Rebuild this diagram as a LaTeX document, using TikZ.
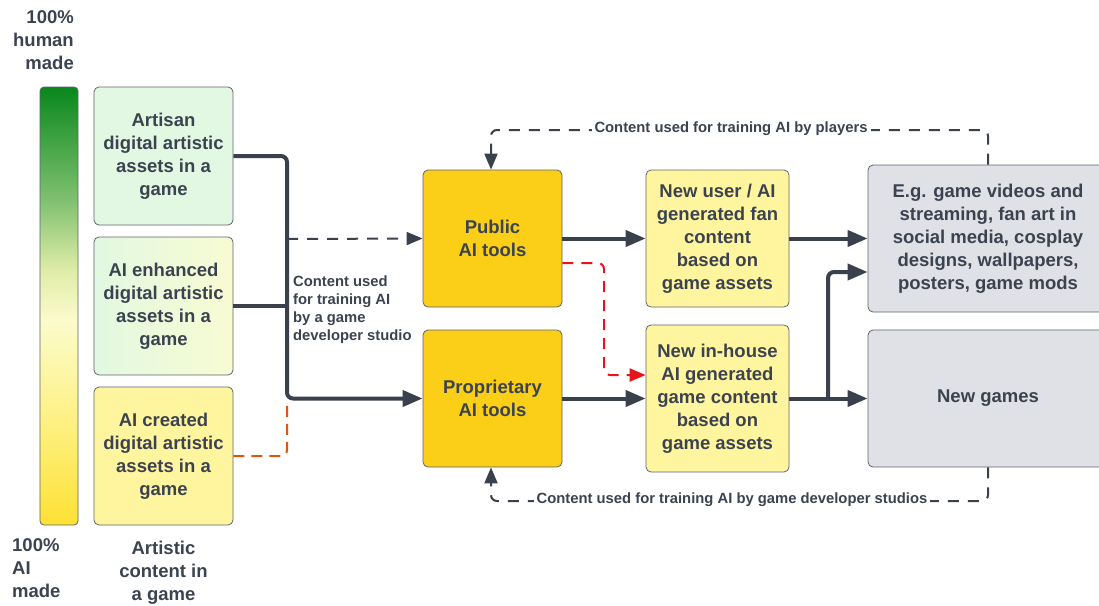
\documentclass[tikz,border=0pt]{standalone}
\usepackage{fontspec}
\setmainfont{Liberation Sans}
\usetikzlibrary{arrows.meta,calc}

\definecolor{ink}{HTML}{3A414C}
\definecolor{txt}{HTML}{3B4350}
\definecolor{edge}{HTML}{5E646C}
\definecolor{gold}{HTML}{FBCE17}
\definecolor{paleyellow}{HTML}{FFF59F}
\definecolor{palegreen}{HTML}{E2F8E2}
\definecolor{palecream}{HTML}{F8FBD2}
\definecolor{boxgrey}{HTML}{DFE1E6}
\definecolor{rust}{HTML}{D9570F}
\definecolor{alert}{HTML}{E8141B}

% green (human made) at the top, yellow (AI made) at the bottom;
% the path is fitted to the 25bp--75bp band of the shading
\pgfdeclareverticalshading{humanai}{100bp}{%
  color(0bp)=({rgb,255:red,254;green,224;blue,52});
  color(25bp)=({rgb,255:red,254;green,224;blue,52});
  color(35.8bp)=({rgb,255:red,253;green,240;blue,124});
  color(48.4bp)=({rgb,255:red,252;green,251;blue,204});
  color(54.1bp)=({rgb,255:red,223;green,236;blue,168});
  color(62.1bp)=({rgb,255:red,128;green,192;blue,112});
  color(75bp)=({rgb,255:red,8;green,136;blue,28});
  color(100bp)=({rgb,255:red,8;green,136;blue,28})}

\tikzset{
  box/.style={draw=edge, line width=0.8pt, rounded corners=5pt, align=center,
    text=txt, font=\fontsize{18.5}{23}\selectfont\bfseries, inner sep=0pt},
  caption/.style={text=txt, font=\fontsize{18.5}{23}\selectfont\bfseries, inner sep=0pt},
  small/.style={text=txt, font=\fontsize{14.8}{18}\selectfont\bfseries, inner sep=1pt},
  flow/.style={draw=ink, line width=4pt, rounded corners=6pt,
    -{Triangle[length=20pt,width=16pt]}},
  feed/.style={draw=ink, line width=4pt, rounded corners=6pt},
  loop/.style={draw=ink, line width=2pt, dash pattern=on 11pt off 9pt, rounded corners=6pt,
    -{Triangle[length=16pt,width=13pt]}},
}

\begin{document}
\begin{tikzpicture}[x=1pt,y=-1pt]
\useasboundingbox (0,0) rectangle (1099,605);
\clip (0,0) rectangle (1099,605);

% scale bar from human made to AI made
\shade[shading=humanai, rounded corners=4pt] (40,87) rectangle (78,525);
\draw[edge, line width=0.8pt, rounded corners=4pt] (40,87) rectangle (78,525);
\node[caption, anchor=east, align=right] (top) at (74,40) {100\%\\human\\made};
\node[caption, anchor=west, align=left] (bottom) at (12,568) {100\%\\AI\\made};
\node[caption, align=center] (col) at (163.5,573) {Artistic\\content in\\a game};

% artistic content column
\node[box, fill=palegreen, minimum width=139pt, minimum height=138pt] (art) at (163.5,156)
  {Artisan\\digital artistic\\assets in a\\game};
\shade[left color=palegreen, right color=palecream, rounded corners=5pt] (94,237) rectangle (233,375);
\node[box, minimum width=139pt, minimum height=138pt] (enh) at (163.5,306)
  {AI enhanced\\digital artistic\\assets in a\\game};
\node[box, fill=paleyellow, minimum width=139pt, minimum height=138pt] (cre) at (163.5,456)
  {AI created\\digital artistic\\assets in a\\game};

% AI tools
\node[box, fill=gold, minimum width=139pt, minimum height=137pt] (pub) at (492.5,238.5)
  {Public\\AI tools};
\node[box, fill=gold, minimum width=139pt, minimum height=137pt] (prop) at (492.5,398.5)
  {Proprietary\\AI tools};

% generated content
\node[box, fill=paleyellow, minimum width=143pt, minimum height=137pt] (fan) at (717.5,238.5)
  {New user / AI\\generated fan\\content\\based on\\game assets};
\node[box, fill=paleyellow, minimum width=143pt, minimum height=147pt] (inh) at (717.5,398.5)
  {New in-house\\AI generated\\game content\\based on\\game assets};

% outlets
\node[box, fill=boxgrey, minimum width=240pt, minimum height=147pt] (eg) at (988,238.5)
  {E.g. game videos and\\streaming, fan art in\\social media, cosplay\\designs, wallpapers,\\posters, game mods};
\node[box, fill=boxgrey, minimum width=240pt, minimum height=137pt] (games) at (988,398.5)
  {New games};

% junction points
\coordinate (j) at (287,398.5);
\coordinate (d) at (287,239);
\coordinate (ry1) at (604,263);
\coordinate (ry2) at (604,375);
\coordinate (k) at (828,398.5);
\coordinate (k2) at (828,272);
\coordinate (t1) at (988,130);
\coordinate (t2) at (491,130);
\coordinate (b1) at (988,501);
\coordinate (b2) at (491,501);

% studio training feed
\draw[rust, line width=2pt, dash pattern=on 11pt off 7pt, rounded corners=6pt]
  (cre.east) -| ($(j)+(0,3)$);
\draw[feed, -] (enh.east) -- (enh.east -| j);
\draw[flow] (art.east) -| (j) -- (prop.west);
\draw[loop] (d) -- (pub.west);
\node[small, anchor=north west, align=left] (studio) at (292,275)
  {Content used\\for training AI\\by a game\\developer studio};

% generation flows
\draw[flow] (pub.east) -- (fan.west);
\draw[flow] (fan.east) -- (eg.west);
\draw[flow] (prop.east) -- (inh.west);
\draw[flow] (inh.east) -- (games.west);
\draw[flow] (k) -- (k2) -- (eg.west |- k2);
\draw[alert, line width=2pt, dash pattern=on 11pt off 8pt, rounded corners=6pt,
  -{Triangle[length=16pt,width=13pt]}]
  (pub.east |- ry1) -- (ry1) -- (ry2) -- (inh.west |- ry2);

% training feedback loops
\draw[loop] (eg.north) -- (t1) -- (t2) -- (pub.north -| t2);
\node[small, fill=white, inner xsep=3pt] (players) at (731,129)
  {Content used for training AI by players};
\draw[loop] (games.south) -- (b1) -- (b2) -- (prop.south -| b2);
\node[small, fill=white, inner xsep=3pt] (studios) at (732,500)
  {Content used for training AI by game developer studios};
\end{tikzpicture}
\end{document}
